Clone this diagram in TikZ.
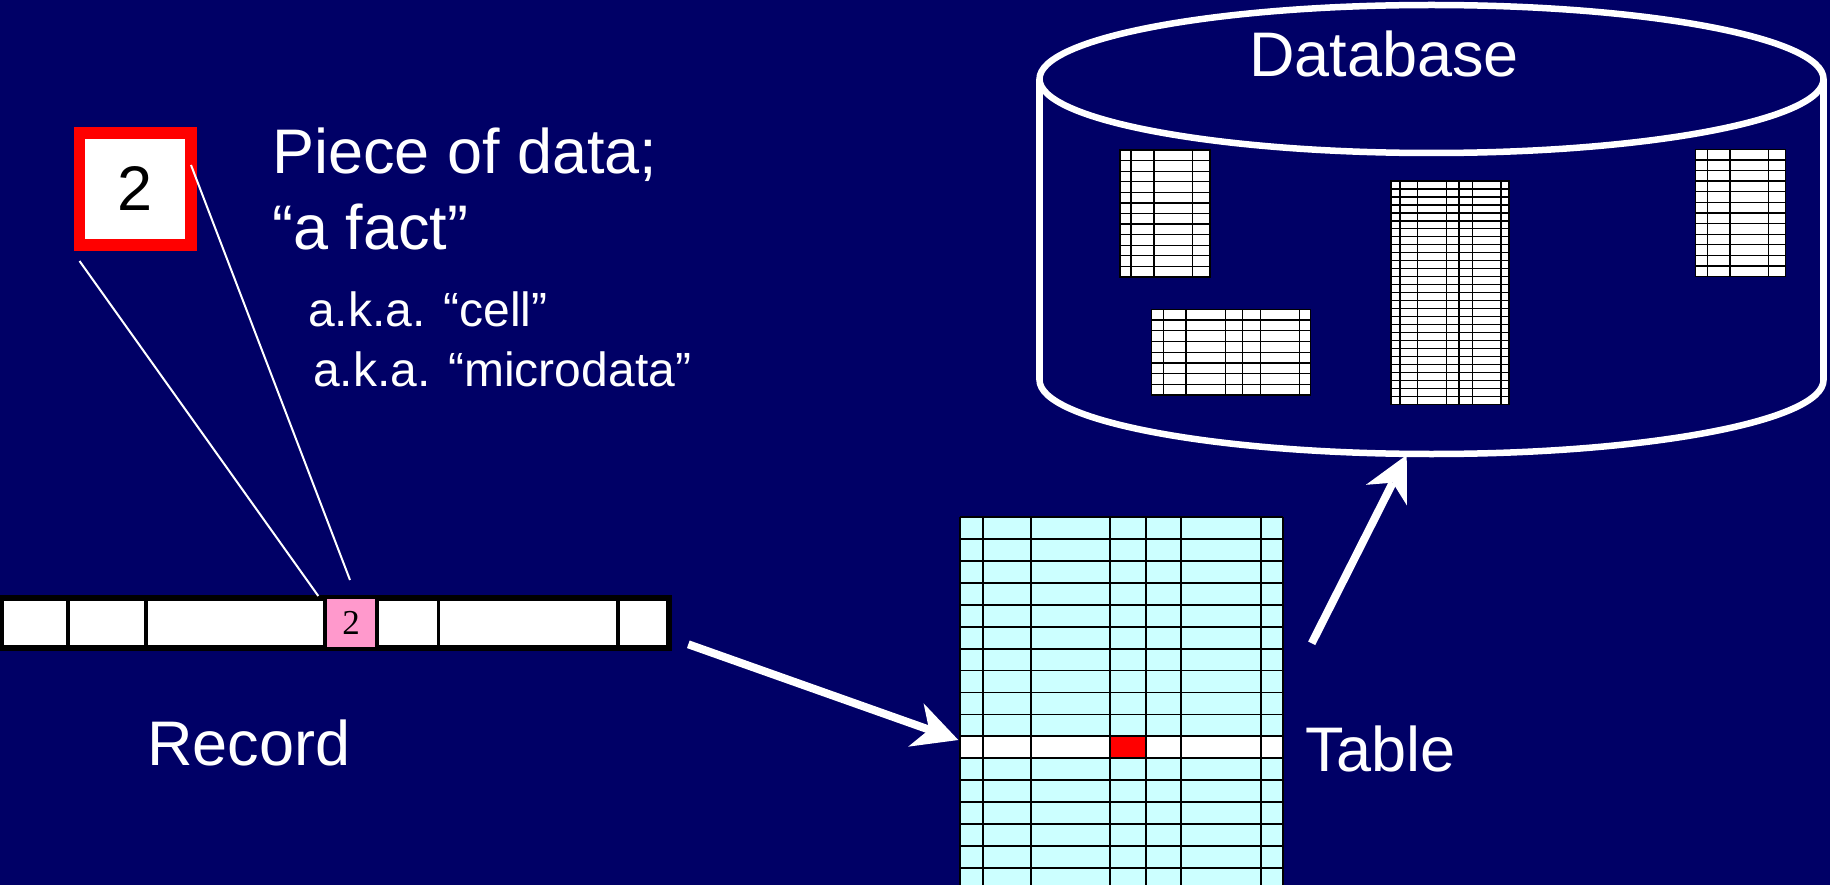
\documentclass[tikz,border=0pt]{standalone}
\usepackage{fontspec}
\setmainfont{Liberation Sans}
\newfontfamily\serifnum{Liberation Serif}
\usetikzlibrary{arrows.meta}
\definecolor{bg}{HTML}{000066}
\definecolor{cyanfill}{HTML}{CCFFFF}
\definecolor{pinkfill}{HTML}{FF99CC}
\newcommand\dbgrid[6]{%
  \fill[white] (#1,#4) rectangle (#2,#5);
  \foreach \xx in {#3} {\draw[gridline] (\xx,#4) -- (\xx,#5);}
  \foreach \k in {1,...,#6} {\draw[gridline] (#1,{#4+(#5-#4)*\k/#6}) -- (#2,{#4+(#5-#4)*\k/#6});}
  \draw[gridline] (#1,#4) rectangle (#2,#5);
}
\begin{document}
\begin{tikzpicture}[x=1pt,y=-1pt,
  lbl/.style={text=white, inner sep=0, anchor=base west, font=\fontsize{63}{63}\selectfont},
  small/.style={text=white, inner sep=0, anchor=base west, font=\fontsize{48}{48}\selectfont},
  gridline/.style={black, line width=1.3},
  tabline/.style={black, line width=1.7},
  recline/.style={black, line width=3.7},
  thinline/.style={white, line width=2},
  bigarrow/.style={white, line width=8, -{Stealth[length=45pt,width=46pt,inset=14pt,line width=0pt]}},
  dbline/.style={white, line width=6.5}]

\fill[bg] (0,0) rectangle (1830,885);
\useasboundingbox (0,0) rectangle (1830,885);

% database cylinder
\coordinate (db) at (1431.5,79);
\draw[dbline] (db) ellipse [x radius=392, y radius=74];
\draw[dbline] (1039.5,79) -- (1039.5,380);
\draw[dbline] (1823.5,79) -- (1823.5,380);
\begin{scope}
  \clip (1000,380) rectangle (1870,480);
  \draw[dbline] (1431.5,380) ellipse [x radius=392, y radius=74];
\end{scope}
\node[lbl] (dblbl) at (1249,77) {Database};

% small tables in database
\dbgrid{1120}{1210}{1131,1154,1192.7}{150}{277}{12}
\dbgrid{1695.7}{1785.7}{1707.3,1730,1768.7}{149.3}{276.7}{12}
\dbgrid{1151.7}{1310.7}{1163.3,1186,1225.3,1242.7,1260.3,1299.3}{309.3}{395}{8}
\dbgrid{1391}{1509}{1400,1417.3,1446.3,1459,1472.3,1501}{181}{404.3}{28}

% texts
\node[lbl] (piece) at (272,173.3) {Piece of data;};
\node[lbl] (fact) at (272,249.3) {“a fact”};
\node[small] (cell) at (308,326.7) {a.k.a. “cell”};
\node[small] (micro) at (313,386.7) {a.k.a. “microdata”};
\node[lbl] (reclbl) at (147,765) {Record};
\node[lbl] (tablbl) at (1305,771.7) {Table};

% big cell
\node[draw=red, line width=11.5, fill=white, minimum width=111.5, minimum height=112,
      inner sep=0, font=\fontsize{63}{63}\selectfont] (big) at (135.2,189) {2};

% record
\node[draw=black, line width=3.7, fill=white, minimum width=666.5, minimum height=48.3, inner sep=0] (record) at (335.05,622.85) {};
\fill[pinkfill] (325,598.7) rectangle (377,647);
\foreach \xx in {68.3,146,325,377,438.4,618.3} \draw[recline] (\xx,598.7) -- (\xx,647);
\draw[recline] (record.north west) rectangle (record.south east);
\node[inner sep=0, font=\serifnum\fontsize{35}{35}\selectfont] (pink) at (351,623) {2};

% zoom lines
\coordinate (bigR) at (191,165);
\coordinate (bigL) at (79.5,261);
\coordinate (pinkL) at (318.3,596);
\coordinate (pinkR) at (350,580);
\draw[thinline] (bigL) -- (pinkL);
\draw[thinline] (bigR) -- (pinkR);

% table
\fill[cyanfill] (960,517.3) rectangle (1283.3,890);
\fill[white] (960,736.3) rectangle (1283.3,758.2);
\fill[red] (1110,736.3) rectangle (1145.7,758.2);
\foreach \k in {0,...,17} \draw[tabline] (960,{517.3+\k*21.9}) -- (1283.3,{517.3+\k*21.9});
\foreach \xx in {960,983.3,1030.7,1110,1145.7,1181.3,1260.7,1283.3} \draw[tabline] (\xx,517.3) -- (\xx,890);

% arrows
\coordinate (recout) at (688.3,644.3);
\coordinate (tabin) at (958.3,740);
\draw[bigarrow] (recout) -- (tabin);
\coordinate (tabout) at (1311.7,643.3);
\coordinate (dbin) at (1406.7,455);
\draw[bigarrow] (tabout) -- (dbin);
\end{tikzpicture}
\end{document}
